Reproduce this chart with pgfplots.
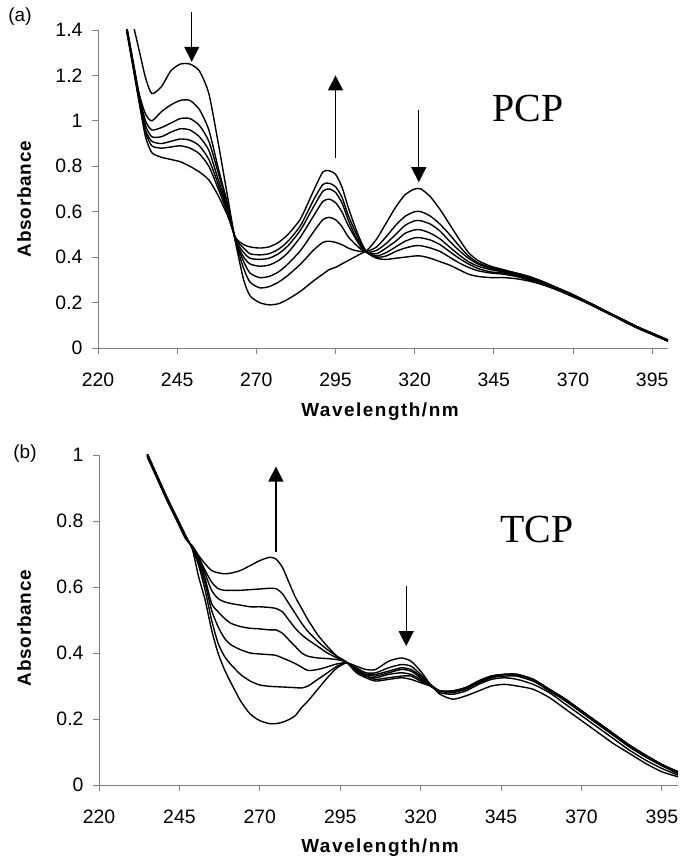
\documentclass[border=0pt]{standalone}
\usepackage{pgfplots}
\pgfplotsset{compat=1.18}
\usepackage{pgfplotstable}
\usetikzlibrary{arrows.meta}
\usepackage{fontspec}
\setmainfont{Liberation Sans}
\newfontfamily\timesfont{Liberation Serif}
\newfontfamily\labfontA[LetterSpace=4]{Liberation Sans}
\newfontfamily\labfontB[LetterSpace=8]{Liberation Sans}

\pgfplotstableread{
x a1 a2 a3 a4 a5 a6 a7
229 1.55 1.42 1.42 1.41 1.41 1.40 1.40
231 1.43 1.27 1.26 1.26 1.25 1.25 1.24
233 1.31 1.12 1.11 1.10 1.10 1.09 1.08
235 1.19 1.03 1.00 0.98 0.96 0.95 0.93
237 1.12 1.00 0.96 0.93 0.91 0.89 0.86
240 1.15 1.04 0.97 0.93 0.90 0.88 0.84
243 1.22 1.07 0.99 0.95 0.91 0.885 0.83
246 1.25 1.09 1.01 0.965 0.92 0.89 0.82
249 1.25 1.09 1.01 0.96 0.915 0.88 0.80
252 1.22 1.05 0.98 0.93 0.89 0.855 0.775
255 1.12 0.96 0.91 0.87 0.83 0.80 0.74
258 0.90 0.79 0.77 0.74 0.72 0.70 0.67
261 0.66 0.63 0.62 0.61 0.60 0.59 0.58
263.5 0.46 0.465 0.47 0.47 0.475 0.48 0.485
266 0.30 0.35 0.38 0.40 0.42 0.44 0.455
268 0.23 0.29 0.33 0.37 0.395 0.415 0.445
271 0.20 0.265 0.31 0.36 0.39 0.41 0.44
274 0.19 0.27 0.315 0.365 0.395 0.415 0.445
277 0.195 0.29 0.335 0.385 0.415 0.435 0.465
280 0.215 0.32 0.37 0.42 0.45 0.47 0.50
284 0.25 0.37 0.43 0.49 0.52 0.54 0.57
288 0.295 0.43 0.51 0.58 0.62 0.65 0.69
291 0.325 0.465 0.565 0.645 0.69 0.72 0.775
293 0.345 0.47 0.575 0.655 0.70 0.725 0.78
295 0.355 0.465 0.565 0.64 0.685 0.71 0.765
297 0.37 0.455 0.535 0.60 0.64 0.665 0.71
299 0.385 0.44 0.49 0.54 0.565 0.585 0.62
301 0.40 0.43 0.46 0.49 0.50 0.52 0.54
303 0.415 0.425 0.435 0.445 0.45 0.46 0.47
305 0.43 0.425 0.42 0.42 0.42 0.42 0.42
308 0.48 0.445 0.43 0.415 0.405 0.40 0.395
311 0.55 0.49 0.46 0.44 0.42 0.405 0.39
314 0.62 0.54 0.50 0.47 0.445 0.425 0.395
317 0.675 0.58 0.54 0.505 0.47 0.44 0.40
320 0.70 0.60 0.56 0.52 0.485 0.45 0.405
322 0.70 0.60 0.56 0.52 0.485 0.45 0.405
325 0.665 0.58 0.545 0.505 0.475 0.44 0.395
328 0.61 0.545 0.515 0.48 0.455 0.425 0.38
331 0.545 0.50 0.47 0.445 0.425 0.40 0.365
334 0.48 0.45 0.43 0.41 0.395 0.375 0.345
337 0.42 0.405 0.395 0.38 0.37 0.355 0.325
340 0.385 0.375 0.37 0.36 0.35 0.34 0.315
344 0.36 0.355 0.35 0.345 0.335 0.33 0.31
348 0.345 0.34 0.34 0.335 0.33 0.325 0.31
352 0.33 0.33 0.325 0.325 0.32 0.315 0.305
356 0.315 0.315 0.31 0.31 0.305 0.30 0.295
360 0.295 0.295 0.29 0.29 0.285 0.285 0.28
365 0.265 0.265 0.265 0.26 0.26 0.26 0.255
370 0.235 0.235 0.23 0.23 0.23 0.23 0.225
375 0.20 0.20 0.20 0.195 0.195 0.195 0.195
380 0.165 0.165 0.165 0.16 0.16 0.16 0.16
385 0.13 0.13 0.13 0.13 0.125 0.125 0.125
390 0.095 0.095 0.095 0.095 0.09 0.09 0.09
395 0.065 0.065 0.065 0.065 0.06 0.06 0.06
400 0.035 0.035 0.035 0.035 0.03 0.03 0.03
}\tabA

\pgfplotstableread{
x b1 b2 b3 b4 b5 b6 b7
235 1.005 1.003 1.001 1.000 0.998 0.996 0.994
238 0.94 0.938 0.936 0.935 0.933 0.931 0.93
241 0.875 0.873 0.871 0.87 0.868 0.866 0.865
244 0.815 0.813 0.811 0.81 0.808 0.806 0.805
247 0.755 0.753 0.751 0.75 0.748 0.746 0.745
249 0.715 0.717 0.719 0.72 0.722 0.724 0.725
251 0.63 0.665 0.675 0.685 0.69 0.69 0.695
253 0.56 0.59 0.61 0.625 0.64 0.65 0.67
255 0.47 0.50 0.53 0.55 0.59 0.615 0.65
257 0.40 0.43 0.48 0.525 0.565 0.595 0.643
259 0.35 0.39 0.445 0.505 0.555 0.59 0.64
261 0.31 0.365 0.425 0.49 0.55 0.59 0.642
264 0.255 0.335 0.41 0.48 0.545 0.59 0.65
267 0.215 0.315 0.40 0.475 0.54 0.592 0.665
270 0.195 0.303 0.397 0.473 0.54 0.594 0.68
273 0.186 0.299 0.395 0.47 0.538 0.596 0.69
275 0.186 0.298 0.393 0.47 0.535 0.595 0.685
277 0.19 0.297 0.385 0.46 0.525 0.58 0.66
279 0.198 0.296 0.377 0.44 0.50 0.55 0.615
281 0.21 0.295 0.368 0.42 0.475 0.52 0.57
283 0.235 0.294 0.357 0.40 0.455 0.49 0.535
285 0.255 0.30 0.347 0.39 0.44 0.465 0.50
288 0.29 0.32 0.35 0.385 0.42 0.435 0.455
291 0.325 0.34 0.358 0.383 0.40 0.41 0.42
294 0.355 0.36 0.367 0.38 0.385 0.39 0.39
297 0.37 0.37 0.37 0.372 0.372 0.372 0.372
300 0.36 0.355 0.35 0.35 0.345 0.345 0.34
303 0.35 0.34 0.335 0.335 0.33 0.33 0.325
306 0.35 0.34 0.335 0.33 0.325 0.32 0.315
310 0.375 0.355 0.345 0.34 0.335 0.325 0.32
314 0.385 0.365 0.355 0.35 0.34 0.33 0.325
317 0.375 0.36 0.35 0.345 0.335 0.33 0.32
320 0.345 0.335 0.33 0.325 0.32 0.315 0.31
323 0.305 0.305 0.305 0.30 0.30 0.30 0.30
326 0.275 0.28 0.285 0.285 0.285 0.285 0.285
330 0.26 0.275 0.28 0.28 0.285 0.285 0.285
334 0.27 0.285 0.29 0.295 0.295 0.295 0.295
338 0.285 0.305 0.31 0.31 0.315 0.315 0.315
342 0.30 0.32 0.325 0.325 0.33 0.33 0.33
346 0.305 0.325 0.33 0.335 0.335 0.335 0.335
350 0.30 0.32 0.33 0.33 0.335 0.335 0.335
355 0.29 0.305 0.315 0.315 0.32 0.32 0.32
360 0.265 0.28 0.285 0.29 0.29 0.29 0.29
365 0.23 0.245 0.255 0.255 0.26 0.26 0.26
370 0.195 0.21 0.22 0.22 0.225 0.225 0.225
375 0.16 0.175 0.185 0.185 0.19 0.19 0.19
380 0.125 0.14 0.15 0.15 0.155 0.155 0.155
385 0.095 0.105 0.115 0.115 0.12 0.12 0.12
390 0.065 0.075 0.085 0.085 0.09 0.09 0.09
395 0.04 0.05 0.058 0.06 0.062 0.062 0.062
400 0.025 0.03 0.035 0.035 0.04 0.04 0.04
}\tabB

\pgfplotsset{
  spectra/.style={
    scale only axis, xmin=220, xmax=400, ymin=0,
    axis x line*=bottom, axis y line*=left,
    axis line style={gray, line width=0.9bp},
    major tick style={gray, line width=0.9bp},
    tick align=outside, major tick length=6bp,
    xtick={220,245,...,395},
    tick label style={font=\fontsize{19.5}{20}\selectfont},
    /pgf/number format/assume math mode=true,
    xticklabel style={anchor=base, yshift=-33bp},
    yticklabel style={anchor=east, xshift=-6bp},
    clip mode=individual,
  },
}
\tikzset{
  arr/.style={-{Triangle[length=15bp,width=15bp]}, line width=1.3bp, black},
  curve/.style={black, line width=1.4bp, smooth, tension=0.4, mark=none},
}

\begin{document}
\begin{tikzpicture}[x=1bp,y=1bp]
\path[use as bounding box] (0,0) rectangle (680,857);

\begin{axis}[spectra, at={(98bp,509bp)}, anchor=south west,
  width=570bp, height=318bp, ymax=1.4, ytick={0,0.2,...,1.4}]
\addplot[curve] table[x=x,y=a1] {\tabA};
\addplot[curve] table[x=x,y=a2] {\tabA};
\addplot[curve] table[x=x,y=a3] {\tabA};
\addplot[curve] table[x=x,y=a4] {\tabA};
\addplot[curve] table[x=x,y=a5] {\tabA};
\addplot[curve] table[x=x,y=a6] {\tabA};
\addplot[curve] table[x=x,y=a7] {\tabA};
\draw[arr] (axis cs:249.6,1.48) -- (axis cs:249.6,1.26);
\draw[arr] (axis cs:295,0.837) -- (axis cs:295,1.20);
\draw[arr] (axis cs:321.3,1.048) -- (axis cs:321.3,0.73);
\end{axis}

\begin{axis}[spectra, at={(99bp,72bp)}, anchor=south west,
  width=579bp, height=330bp, ymax=1, ytick={0,0.2,...,1}]
\addplot[curve] table[x=x,y=b1] {\tabB};
\addplot[curve] table[x=x,y=b2] {\tabB};
\addplot[curve] table[x=x,y=b3] {\tabB};
\addplot[curve] table[x=x,y=b4] {\tabB};
\addplot[curve] table[x=x,y=b5] {\tabB};
\addplot[curve] table[x=x,y=b6] {\tabB};
\addplot[curve] table[x=x,y=b7] {\tabB};
\draw[arr] (axis cs:275,0.707) -- (axis cs:275,0.965);
\draw[arr] (axis cs:315.5,0.604) -- (axis cs:315.5,0.421);
\end{axis}

\node[font=\fontsize{19}{20}\selectfont] at (20,840) {(a)};
\node[font=\fontsize{19}{20}\selectfont] at (25,403) {(b)};
\node[rotate=90, font=\labfontA\bfseries\fontsize{19}{20}\selectfont] at (24,658) {Absorbance};
\node[rotate=90, font=\labfontA\bfseries\fontsize{19}{20}\selectfont] at (24,229) {Absorbance};
\node[anchor=base, font=\labfontB\bfseries\fontsize{19}{20}\selectfont] at (380,440.5) {Wavelength/nm};
\node[anchor=base, font=\labfontB\bfseries\fontsize{19}{20}\selectfont] at (380,4) {Wavelength/nm};
\node[anchor=base, font=\timesfont\fontsize{40}{40}\selectfont] at (528,735) {PCP};
\node[anchor=base, font=\timesfont\fontsize{40}{40}\selectfont] at (537,314) {TCP};
\end{tikzpicture}
\end{document}
